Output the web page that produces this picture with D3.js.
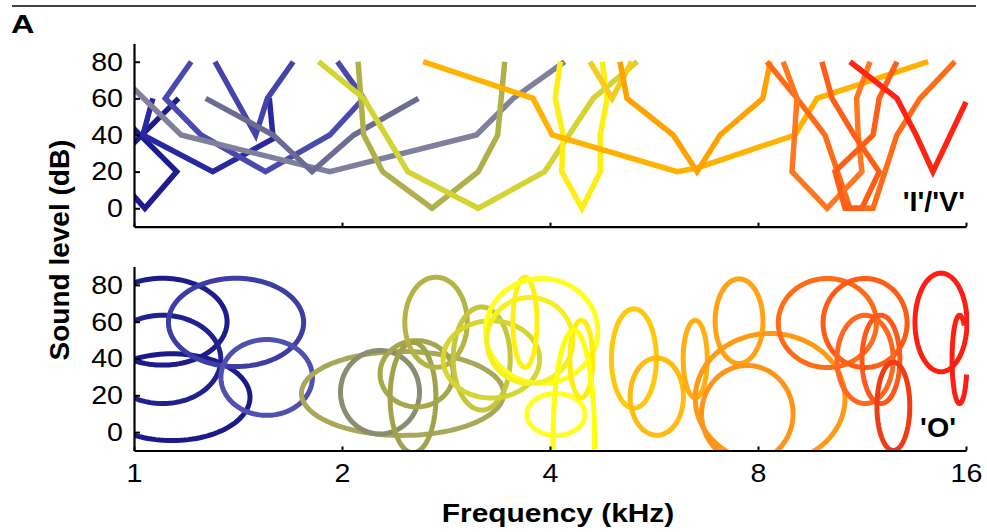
<!DOCTYPE html>
<html>
<head>
<meta charset="utf-8">
<script src="https://cdn.jsdelivr.net/npm/d3@7"></script>
<style>
  html, body { margin: 0; padding: 0; background: #fff; }
  svg { display: block; }
  text { font-family: Arial, "Liberation Sans", Helvetica, sans-serif; fill: #000; }
</style>
</head>
<body>
<svg id="fig" width="987" height="532"></svg>
<script>
// ---- axis ticks ----
const freqTicks = [1, 2, 4, 8, 16];      // kHz
const levelTicks = [0, 20, 40, 60, 80];  // dB

// ---- 'I'/'V' units: threshold contours as [kHz, dB] vertices ----
const vCurves = [
  [[1.16,60],[0.954,28],[0.954,51],[1.153,20],[1.037,0],[0.97,12]],
  [[1.065,60],[1.03,40],[1.30,20],[1.59,38],[1.57,60]],
  [[1.31,80],[1.50,40],[1.56,60],[1.70,80]],
  [[1.21,80],[1.11,60],[1.25,40],[1.55,20],[1.92,40],[2.15,60],[1.97,80]],
  [[0.97,70],[1.17,40],[1.92,20],[3.13,40],[3.54,60],[4.2,80]],
  [[1.27,60],[1.59,40],[1.81,20],[2.08,40],[2.58,60]],
  [[2.11,80],[2.15,40],[2.29,20],[2.70,0],[3.15,20],[3.36,40],[3.44,80]],
  [[1.85,80],[2.15,60],[2.49,20],[3.15,0],[3.93,20],[4.62,60],[5.35,80]],
  [[4.14,80],[4.07,60],[4.18,40],[4.16,20],[4.45,0],[4.73,20],[4.73,40],[4.84,60],[4.76,80]],
  [[4.57,80],[4.92,60],[5.25,80]],
  [[2.62,80],[3.78,60],[4.03,40],[6.11,20],[6.53,22],[9.05,40],[9.74,60],[14.1,80]],
  [[5.05,80],[5.17,60],[6.03,40],[6.53,20],[7.05,40],[8.13,60],[8.33,80]],
  [[8.24,80],[9.11,60],[10.0,40],[10.87,0],[11.74,0],[12.71,40],[13.73,60],[15.42,80]],
  [[8.70,80],[9.11,60],[8.96,20],[10.07,0],[11.31,20],[11.17,40],[11.11,60],[11.62,80]],
  [[9.90,80],[10.24,60],[11.02,40],[11.98,20],[11.31,0],[10.69,0],[10.34,20],[11.74,40],[11.98,60],[12.71,80]],
  [[10.87,80],[12.71,60],[13.55,40],[14.33,20],[16.0,58]]
];
const vColours = [
  "#1c1c8c", "#2828a0", "#4343a9", "#4a4aae", "#80809c", "#6c6c92",
  "#b0b04a", "#d3d334", "#ffee14", "#f6cc1c", "#ffb300", "#ffa200",
  "#ff6c18", "#ff7820", "#ff5e16", "#ff2412"
];

// ---- 'O' units: closed response areas (centre, half-width in octaves, half-height in dB) ----
const oFreq       = [1.10, 1.10, 1.135, 1.405, 1.556, 2.447, 2.27, 2.565, 2.534, 2.736, 3.186, 3.29,
                     3.68, 3.89, 3.74, 4.08, 4.44, 4.33, 5.29, 5.71, 6.49, 7.51, 8.33, 7.72,
                     10.08, 11.43, 11.43, 12.05, 12.56, 14.72];
const oLevel      = [60, 39.5, 19, 59.6, 29.7, 21, 21.7, 31.7, 18.8, 59.7, 40, 39.5,
                     59.7, 55, 49.8, 9.6, 39.7, -4.6, 40, 19.3, 39.7, 60.3, 18.3, 9.9,
                     59.3, 59.3, 39.5, 39.5, 14, 59.6];
const oHalfWidth  = [0.31, 0.28, 0.375, 0.325, 0.22, 0.486, 0.19, 0.176, 0.11, 0.15, 0.137, 0.232,
                     0.058, 0.27, 0.207, 0.14, 0.055, 0.10, 0.108, 0.128, 0.058, 0.115, 0.36, 0.22,
                     0.236, 0.202, 0.135, 0.091, 0.079, 0.125];
const oHalfHeight = [23.6, 24, 23.6, 24, 20.6, 22.8, 22.7, 18, 30, 24.5, 28, 21,
                     24.5, 28.5, 23.4, 11.4, 21, 60, 27, 21, 21, 23, 35.3, 26.3,
                     24.2, 24.2, 24, 24, 24, 26.8];
const oColours    = ["#1c1c8c", "#20208e", "#1a1a8a", "#3d3da5", "#5050ae", "#a8a858", "#8c8c70", "#a6a64c",
                     "#a2a24a", "#b4b446", "#c6c63a", "#d6d632", "#fff012", "#ffff1e", "#f6f022", "#ffff28",
                     "#ffee0c", "#ffff0c", "#ffc80c", "#ffbb12", "#ffae14", "#ffa216", "#ff9a14", "#ff941a",
                     "#ff6c18", "#ff5c16", "#ff681e", "#ff581a", "#f03c14", "#ff1e12"];

// one high-frequency unit whose area is an open loop (angles in degrees)
const loopFreq = 15.66, loopLevel = 39.5, loopHalfWidth = 0.036, loopHalfHeight = 24;
const loopFrom = 50, loopTo = 340;

// ---- layout ----
const svg = d3.select("#fig");
const x = d3.scaleLog().base(2).domain([1, 16]).range([134, 966]);
const yTop = d3.scaleLinear().domain([-10, 90]).range([226.6, 43.4]);
const yBot = d3.scaleLinear().domain([-10, 90]).range([450.5, 266.5]);

// frame rule and panel letter
svg.append("line").attr("x1", 12).attr("x2", 976).attr("y1", 6).attr("y2", 6)
  .attr("stroke", "#000").attr("stroke-width", 1.5);
svg.append("text").attr("transform", "translate(11,33) scale(1.25,1)").text("A")
  .style("font-size", "26px").style("font-weight", "bold");

// clip regions
const defs = svg.append("defs");
defs.append("clipPath").attr("id", "clipTop").append("rect")
  .attr("x", 135).attr("y", 40).attr("width", 834).attr("height", 186.5);
defs.append("clipPath").attr("id", "clipBot").append("rect")
  .attr("x", 135).attr("y", 262).attr("width", 834).attr("height", 188);

// ---- top panel: V-shaped contours ----
const line = d3.line().x(d => x(d[0])).y(d => yTop(d[1]));
svg.append("g").attr("clip-path", "url(#clipTop)")
  .selectAll("path").data(vCurves).join("path")
  .attr("d", line)
  .attr("fill", "none")
  .attr("stroke", (d, i) => vColours[i])
  .attr("stroke-width", 5.5)
  .attr("stroke-linejoin", "miter")
  .attr("stroke-miterlimit", 3);

// ---- bottom panel: O-shaped areas ----
function ovalPoints(f, db, hw, hh, a0, a1, n) {
  const c = Math.log2(f);
  return d3.range(n + 1).map(k => {
    const t = (a0 + (a1 - a0) * k / n) * Math.PI / 180;
    return [Math.pow(2, c + hw * Math.cos(t)), db + hh * Math.sin(t)];
  });
}
const ovalLine = d3.line().x(d => x(d[0])).y(d => yBot(d[1]));
const ovals = oFreq.map((f, i) => ({
  pts: ovalPoints(f, oLevel[i], oHalfWidth[i], oHalfHeight[i], 0, 360, 120),
  colour: oColours[i]
}));
const gBot = svg.append("g").attr("clip-path", "url(#clipBot)");
gBot.selectAll("path.oval").data(ovals).join("path")
  .attr("class", "oval")
  .attr("d", d => ovalLine(d.pts) + "Z")
  .attr("fill", "none")
  .attr("stroke", d => d.colour)
  .attr("stroke-width", 5);
gBot.append("path")
  .attr("d", ovalLine(ovalPoints(loopFreq, loopLevel, loopHalfWidth, loopHalfHeight, loopFrom, loopTo, 80)))
  .attr("fill", "none").attr("stroke", "#ff1e12").attr("stroke-width", 5);

// ---- axes ----
function drawAxes(y, showFreqLabels) {
  const ay = d3.axisLeft(y).tickValues(levelTicks).tickSize(-6).tickSizeOuter(0).tickPadding(10);
  const gy = svg.append("g").attr("transform", "translate(134,0)").call(ay);
  const ax = d3.axisBottom(x).tickValues(freqTicks).tickSize(-4).tickSizeOuter(0).tickPadding(13)
    .tickFormat(showFreqLabels ? d3.format("d") : () => "");
  const gx = svg.append("g").attr("transform", `translate(0,${y.range()[0]})`).call(ax);
  [gy, gx].forEach(g => {
    g.select(".domain").attr("stroke", "#000").attr("stroke-width", 2.2);
    g.selectAll(".tick line").attr("stroke", "#000").attr("stroke-width", 2);
    g.selectAll(".tick text").style("font-size", "26px").attr("fill", "#000")
      .attr("transform", "scale(1.1,1)");
  });
}
drawAxes(yTop, false);
drawAxes(yBot, true);

// ---- annotations ----
svg.append("text").attr("transform", "translate(965,211) scale(1.06,1)").attr("text-anchor", "end")
  .style("font-size", "27px").style("font-weight", "bold").text("'I'/'V'");
svg.append("text").attr("transform", "translate(956,437) scale(1.06,1)").attr("text-anchor", "end")
  .style("font-size", "27px").style("font-weight", "bold").text("'O'");

svg.append("text").attr("transform", "translate(69,250) rotate(-90)")
  .attr("text-anchor", "middle").style("font-size", "28px").style("font-weight", "bold")
  .text("Sound level (dB)");
svg.append("text").attr("transform", "translate(558,522) scale(1.15,1)").attr("text-anchor", "middle")
  .style("font-size", "26px").style("font-weight", "bold")
  .text("Frequency (kHz)");
</script>
</body>
</html>
